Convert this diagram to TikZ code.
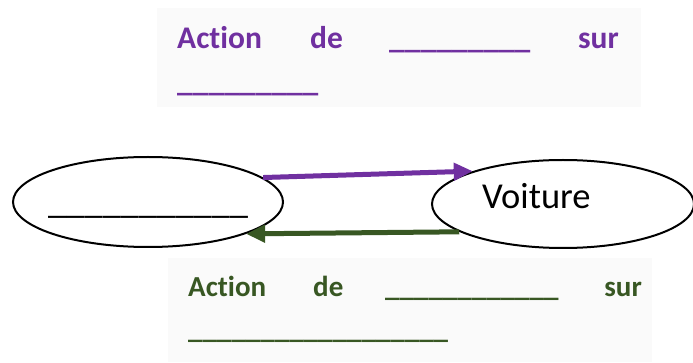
\documentclass[tikz,border=0pt]{standalone}
\usepackage{fontspec}
\setmainfont{Carlito}[Ligatures=NoCommon]
\usepackage{tikz}
\usetikzlibrary{shapes.geometric,arrows.meta}
\definecolor{actpurple}{HTML}{7030A0}
\definecolor{actgreen}{HTML}{385723}
\definecolor{panelgray}{HTML}{FAFAFA}
\newcommand{\trous}[1]{\foreach \k in {1,...,#1}{\_}}

\begin{document}
\begin{tikzpicture}[x=1pt, y=-1pt,
  panel/.style={fill=panelgray, inner sep=0pt},
  motviolet/.style={font=\fontsize{31.5}{38}\selectfont\bfseries, text=actpurple, inner sep=0pt},
  motvert/.style={font=\fontsize{29}{35}\selectfont\bfseries, text=actgreen, inner sep=0pt},
  corps/.style={ellipse, draw, line width=2pt, inner sep=0pt, font=\fontsize{36.5}{40}\selectfont}]
\useasboundingbox (0,0) rectangle (693,363);
%%%%% Panels %%%%%
\node[panel, minimum width=484pt, minimum height=99pt] (haut) at (399,57.5) {};
\node[panel, minimum width=484pt, minimum height=104pt] (bas) at (410,310) {};
%%%%% Top text %%%%%
\node[motviolet, anchor=base west] (h1) at (177,49) {Action};
\node[motviolet, anchor=base west] (h2) at (310,49) {de};
\node[motviolet, anchor=base west] (h3) at (389,49) {\trous{9}};
\node[motviolet, anchor=base east] (h4) at (619,49) {sur};
\node[motviolet, anchor=base west] (h5) at (177,92) {\trous{9}};
%%%%% Bodies %%%%%
\node[corps, minimum width=270pt, minimum height=90pt, text height=30pt, text depth=6pt] (objet) at (148,202) {\makebox[0pt]{\trous{11}}};
\node[corps, minimum width=262pt, minimum height=88pt, text width=162pt, align=left, text height=24pt, text depth=14pt] (voiture) at (563,204) {Voiture};
%%%%% Actions %%%%%
\draw[actpurple, line width=5pt, -{Triangle[length=19pt,width=17pt]}] (objet.12.6) -- (voiture.160.6);
\draw[actgreen, line width=5pt, -{Triangle[length=19pt,width=17pt]}] (voiture.195) -- (objet.342);
%%%%% Bottom text %%%%%
\node[motvert, anchor=base west] (b1) at (188,297) {Action};
\node[motvert, anchor=base west] (b2) at (313,297) {de};
\node[motvert, anchor=base west] (b3) at (385,296) {\trous{12}};
\node[motvert, anchor=base east] (b4) at (642,297) {sur};
\node[motvert, anchor=base west] (b5) at (188,338) {\trous{18}};
\end{tikzpicture}
\end{document}
